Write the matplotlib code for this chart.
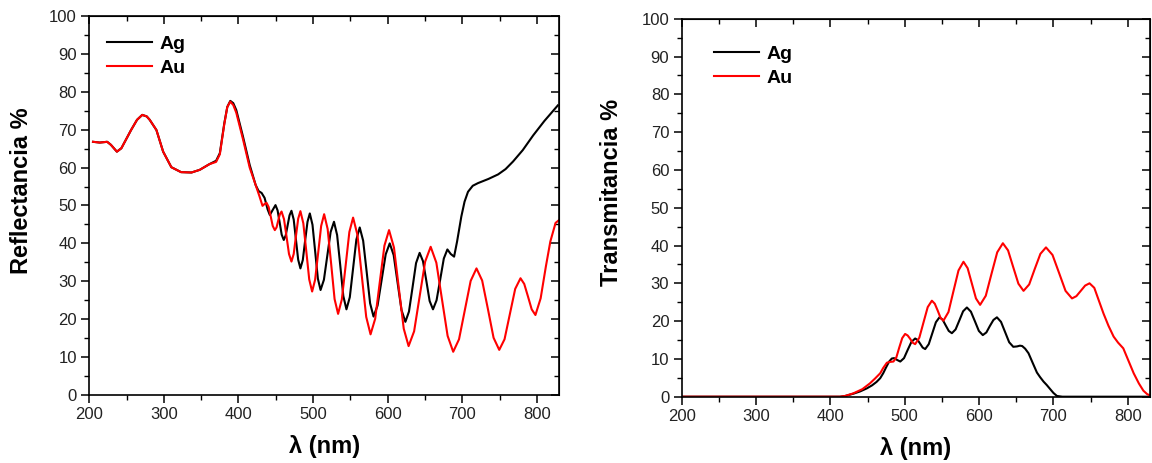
import matplotlib
matplotlib.use("Agg")
import matplotlib.pyplot as plt
from matplotlib.ticker import MultipleLocator

plt.rcParams['font.family'] = ['Liberation Sans', 'DejaVu Sans']

# ---- Reflectance (%) ----
ref_ag_x = [205, 214, 224, 229, 237, 243, 256, 264, 271, 277, 281, 290, 299, 310, 323, 337, 348,
            361, 370, 375, 381, 385, 389, 393, 397, 406, 415, 423, 427, 431, 435, 439, 442, 445.8,
            449.6, 452.4, 455.2, 457.9, 460.7, 463.3, 465.9, 468.4, 471, 474, 477, 480, 483, 486.2,
            489.3, 492.5, 495.6, 499.2, 502.8, 506.4, 510, 514.5, 519, 523.5, 528, 532.2, 536.4,
            540.5, 544.7, 549.2, 553.6, 558, 562.5, 567.1, 571.8, 576.4, 581, 586.4, 591.9, 597.3,
            602.7, 608, 613.2, 618.5, 623.7, 628.5, 633.3, 638, 642.8, 647.3, 651.8, 656.2, 660.7,
            665.5, 670.4, 675.2, 680, 684.5, 689, 693, 698.7, 703, 707.6, 714, 721, 735, 748, 758,
            768, 781, 795, 810, 828]
ref_ag_y = [66.8, 66.6, 66.8, 66.0, 64.2, 65.1, 69.9, 72.6, 73.9, 73.5, 72.6, 69.9, 64.2, 60.1,
            58.8, 58.7, 59.4, 60.9, 61.8, 63.8, 71.7, 76.0, 77.6, 77.0, 75.2, 68.2, 60.7, 55.4, 53.8,
            53.3, 52.0, 49.0, 47.5, 48.8, 50.1, 48.7, 45.5, 42.3, 40.9, 42.1, 44.8, 47.4, 48.6, 46.3,
            41.0, 35.7, 33.4, 35.6, 40.7, 45.7, 47.9, 44.9, 37.8, 30.7, 27.7, 30.4, 36.7, 43.0, 45.7,
            42.2, 34.2, 26.1, 22.6, 25.8, 33.4, 41.0, 44.2, 40.7, 32.5, 24.2, 20.7, 23.6, 30.4, 37.1,
            40.0, 36.9, 29.7, 22.4, 19.3, 22.0, 28.4, 34.8, 37.5, 35.3, 30.1, 24.8, 22.6, 25.0, 30.5,
            36.0, 38.4, 37.2, 36.5, 40.5, 47.1, 51.0, 53.6, 55.2, 55.9, 57.0, 58.2, 59.6, 61.6, 64.6,
            68.5, 72.3, 76.4]

ref_au_x = [205, 214, 224, 229, 237, 243, 256, 264, 271, 277, 281, 290, 299, 310, 323, 337, 348,
            361, 370, 375, 381, 385, 389, 393, 397, 406, 415, 423, 428, 432.2, 435, 437.6, 440.4,
            443.2, 445.9, 448.7, 451, 453.2, 455.5, 457.7, 461, 464.4, 467.7, 471, 474, 477, 480,
            483, 486.9, 490.9, 494.8, 498.7, 502.7, 506.8, 510.8, 514.8, 519.5, 524.2, 528.8, 533.5,
            538.5, 543.6, 548.6, 553.6, 559.5, 565.3, 571.2, 577, 583.2, 589.4, 595.6, 601.8, 608.4,
            614.9, 621.5, 628, 635.4, 642.8, 650.2, 657.6, 665.2, 672.7, 680.3, 687.8, 695.6, 703.4,
            711.2, 719, 726.6, 734.3, 741.9, 749.5, 756.6, 763.8, 770.9, 778, 783, 788, 793, 798,
            805, 812, 818, 825, 830]
ref_au_y = [66.8, 66.6, 66.8, 66.0, 64.2, 65.1, 69.9, 72.6, 73.9, 73.5, 72.6, 69.9, 64.2, 60.1,
            58.8, 58.7, 59.4, 60.9, 61.5, 63.5, 71.5, 76.0, 77.4, 76.5, 74.5, 67.5, 60.0, 55.4, 52.5,
            49.9, 50.4, 50.7, 49.6, 47.1, 44.6, 43.5, 44.2, 46.0, 47.7, 48.4, 46.4, 41.8, 37.2, 35.2,
            37.2, 41.9, 46.5, 48.5, 45.3, 37.9, 30.5, 27.3, 30.4, 37.5, 44.6, 47.7, 43.8, 34.6, 25.3,
            21.4, 25.2, 34.1, 43.0, 46.8, 42.2, 31.4, 20.6, 16.0, 20.1, 29.8, 39.4, 43.5, 38.9, 28.2,
            17.5, 12.9, 16.8, 26.0, 35.2, 39.1, 34.9, 25.3, 15.6, 11.4, 14.7, 22.4, 30.1, 33.4, 30.2,
            22.7, 15.1, 11.9, 14.7, 21.4, 28.0, 30.8, 29.3, 26.0, 22.6, 21.1, 25.5, 33.9, 40.5, 45.4,
            46.2]

# ---- Transmittance (%) ----
tra_ag_x = [200, 300, 413, 420, 431, 440, 449, 456, 462, 467, 471, 475, 479, 482.6, 485.7, 490,
            494, 499, 504, 509, 514, 517.4, 520.8, 524.1, 527.5, 532.3, 537.1, 541.9, 546.7, 550.9,
            555, 559.2, 563.4, 568.4, 573.5, 578.5, 583.6, 589, 594.3, 599.7, 605, 609.8, 614.5,
            619.3, 624, 629.5, 635, 640.5, 646, 651, 655, 658, 662, 666.5, 672, 677.8, 682, 686.7,
            691, 695.7, 700, 704.7, 712, 830]
tra_ag_y = [0, 0, 0, 0.2, 0.8, 1.4, 2.2, 3.0, 3.9, 4.9, 6.2, 7.8, 9.3, 10.1, 10.2, 9.7, 9.3, 10.2,
            12.4, 14.5, 15.4, 15.0, 14.0, 13.0, 12.6, 13.9, 16.8, 19.7, 21.0, 20.4, 18.9, 17.4, 16.8,
            17.8, 20.2, 22.6, 23.6, 22.5, 20.0, 17.4, 16.3, 17.0, 18.7, 20.3, 21.0, 19.8, 17.1, 14.4,
            13.2, 13.3, 13.5, 13.4, 12.7, 11.5, 9.0, 6.4, 5.2, 4.0, 3.1, 2.0, 1.0, 0.2, 0, 0]

tra_au_x = [200, 300, 413, 420, 431, 443, 453, 460, 467, 471, 476, 480, 484.8, 488.7, 492.6, 496.6,
            500.5, 503.9, 507.3, 510.6, 514, 519.6, 525.3, 530.9, 536.5, 540.4, 544.3, 548.1, 552,
            558.8, 565.5, 572.3, 579, 584.6, 590.2, 595.8, 601.4, 609, 616.7, 624.4, 632, 639, 645.9,
            652.9, 659.8, 667.4, 674.9, 682.5, 690, 698.8, 707.5, 716.3, 725, 730.9, 736.8, 742.7,
            748.6, 755, 761, 767.4, 774, 781, 787, 794, 801, 808, 815, 821, 826, 830]
tra_au_y = [0, 0, 0, 0.2, 0.9, 2.0, 3.5, 4.8, 6.2, 7.6, 9.0, 9.2, 9.3, 10.4, 13.0, 15.5, 16.6, 16.2,
            15.3, 14.3, 13.9, 15.6, 19.7, 23.7, 25.4, 24.6, 22.8, 20.9, 20.1, 22.4, 27.9, 33.4, 35.7,
            34.0, 30.0, 26.0, 24.3, 26.7, 32.5, 38.2, 40.6, 38.7, 34.3, 29.9, 28.0, 29.7, 33.8, 37.8,
            39.5, 37.5, 32.8, 28.0, 26.0, 26.6, 28.0, 29.4, 30.0, 28.8, 25.5, 22.0, 18.8, 15.9, 14.3,
            12.8, 9.5, 6.2, 3.5, 1.6, 0.7, 0.3]


def style_axes(ax, ylabel, label_x):
    ax.set_xlim(200, 830)
    ax.set_ylim(0, 100)
    ax.xaxis.set_major_locator(MultipleLocator(100))
    ax.xaxis.set_minor_locator(MultipleLocator(50))
    ax.yaxis.set_major_locator(MultipleLocator(10))
    ax.yaxis.set_minor_locator(MultipleLocator(5))
    ax.tick_params(which='major', direction='out', length=6, width=1.1, labelsize=12, pad=3,
                   labelcolor='#222222')
    ax.tick_params(which='minor', direction='out', length=3.5, width=1.0)
    for s in ax.spines.values():
        s.set_linewidth(1.2)
    # top / right: inward ticks, no labels
    top = ax.secondary_xaxis('top')
    top.xaxis.set_major_locator(MultipleLocator(100))
    top.xaxis.set_minor_locator(MultipleLocator(50))
    top.tick_params(which='major', direction='in', length=6, width=1.1, labeltop=False)
    top.tick_params(which='minor', direction='in', length=3.5, width=1.0)
    right = ax.secondary_yaxis('right')
    right.yaxis.set_major_locator(MultipleLocator(10))
    right.yaxis.set_minor_locator(MultipleLocator(5))
    right.tick_params(which='major', direction='in', length=6, width=1.1, labelright=False)
    right.tick_params(which='minor', direction='in', length=3.5, width=1.0)
    ax.set_xlabel('λ (nm)', fontsize=17, fontweight='bold', labelpad=9)
    ax.set_ylabel(ylabel, fontsize=17, fontweight='bold')
    ax.yaxis.set_label_coords(label_x, 0.54)


fig = plt.figure(figsize=(11.52, 4.63), dpi=100)
ax1 = fig.add_axes([0.0775, 0.1469, 0.408, 0.8186])
ax2 = fig.add_axes([0.5918, 0.1432, 0.4065, 0.8164])

ax1.plot(ref_ag_x, ref_ag_y, color='black', lw=1.5, label='Ag')
ax1.plot(ref_au_x, ref_au_y, color='red', lw=1.5, label='Au')
style_axes(ax1, 'Reflectancia %', -0.12)

ax2.plot(tra_ag_x, tra_ag_y, color='black', lw=1.5, label='Ag')
ax2.plot(tra_au_x, tra_au_y, color='red', lw=1.5, label='Au')
style_axes(ax2, 'Transmitancia %', -0.125)

leg_kw = dict(loc='upper left', frameon=False, borderpad=0, borderaxespad=0,
              handlelength=2.3, handletextpad=0.4, labelspacing=0.35,
              prop={'weight': 'bold', 'size': 14})
ax1.legend(bbox_to_anchor=(0.038, 0.95), **leg_kw)
ax2.legend(bbox_to_anchor=(0.069, 0.93), **leg_kw)

fig.savefig('out.png', dpi=100)
